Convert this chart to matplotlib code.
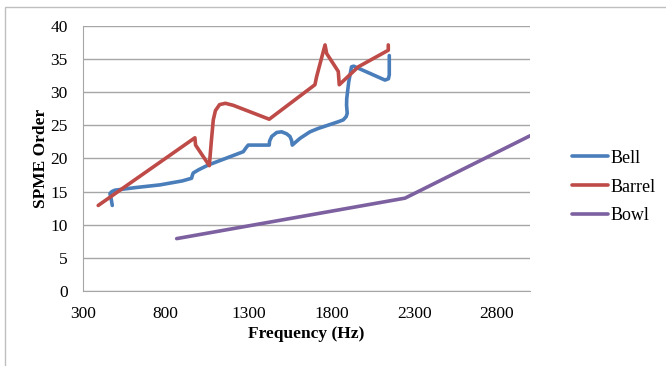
import matplotlib
matplotlib.use('Agg')
import matplotlib.pyplot as plt
from matplotlib.patches import Rectangle

plt.rcParams['font.family'] = ['Liberation Serif', 'DejaVu Serif']

# Bell
bell_freq = [477, 470, 463, 475, 493, 620, 765, 900, 956, 960, 966, 1000, 1057,
             1268, 1285, 1298, 1425, 1427, 1440, 1470, 1500, 1530, 1550, 1560,
             1564, 1610, 1671, 1720, 1780, 1840, 1872, 1890, 1896, 1892, 1893,
             1905, 1922, 1935, 2124, 2145, 2150, 2150]
bell_order = [12.9, 13.9, 14.7, 15.0, 15.2, 15.6, 16.0, 16.6, 17.0, 17.4, 17.8, 18.3, 19.0,
              21.0, 21.6, 22.0, 22.0, 22.6, 23.3, 23.9, 24.0, 23.7, 23.3, 22.7,
              22.0, 23.0, 24.0, 24.5, 25.0, 25.5, 25.8, 26.3, 26.8, 28.0, 29.0,
              31.5, 33.8, 33.9, 31.8, 32.0, 32.6, 35.5]

# Barrel
barrel_freq = [392, 976, 980, 1063, 1075, 1087, 1100, 1125, 1160, 1207, 1425,
               1701, 1711, 1762, 1772, 1842, 1848, 1963, 2144, 2144]
barrel_order = [12.9, 23.1, 22.0, 18.9, 22.5, 25.8, 27.2, 28.1, 28.3, 28.0, 25.9,
                31.1, 32.3, 37.1, 35.8, 33.1, 31.1, 33.8, 36.3, 37.1]

# Bowl
bowl_freq = [866, 2245, 3000]
bowl_order = [7.9, 14.0, 23.4]

fig = plt.figure(figsize=(6.66, 3.66), dpi=100)
ax = fig.add_axes([0.1246, 0.2049, 0.6712, 0.7249])

# chart area border (only top and left visible)
fig.patches.append(Rectangle((5 / 666, -0.1), 1.2, 1 - 7 / 366 + 0.1,
                             transform=fig.transFigure, fill=False,
                             edgecolor='#bfbfbf', linewidth=1))

ax.plot(bell_freq, bell_order, color='#4A7EBB', lw=2.6, label='Bell',
        solid_joinstyle='round', solid_capstyle='round')
ax.plot(barrel_freq, barrel_order, color='#BE4B48', lw=2.6, label='Barrel',
        solid_joinstyle='round', solid_capstyle='round')
ax.plot(bowl_freq, bowl_order, color='#7D60A0', lw=2.6, label='Bowl',
        solid_joinstyle='round', solid_capstyle='round')

ax.set_xlim(300, 3000)
ax.set_ylim(0, 40)
ax.set_xticks([300, 800, 1300, 1800, 2300, 2800])
ax.set_yticks(range(0, 41, 5))
ax.tick_params(length=0, labelsize=12.5)
ax.tick_params(axis='x', pad=11)
ax.tick_params(axis='y', pad=11)

ax.grid(axis='y', color='#a6a6a6', linewidth=1)
ax.set_axisbelow(True)
for s in ['top', 'right']:
    ax.spines[s].set_visible(False)
for s in ['left', 'bottom']:
    ax.spines[s].set_color('#a6a6a6')

ax.set_xlabel('Frequency (Hz)', fontsize=12.5, fontweight='bold', labelpad=3)
ax.set_ylabel('SPME Order', fontsize=12.5, fontweight='bold', labelpad=1)

ax.legend(loc='center left', bbox_to_anchor=(1.094, 0.392), frameon=False,
          fontsize=13, handlelength=2.0, handletextpad=0.15, labelspacing=0.65,
          borderaxespad=0, borderpad=0)

fig.savefig('out.png', dpi=100, facecolor='white')
